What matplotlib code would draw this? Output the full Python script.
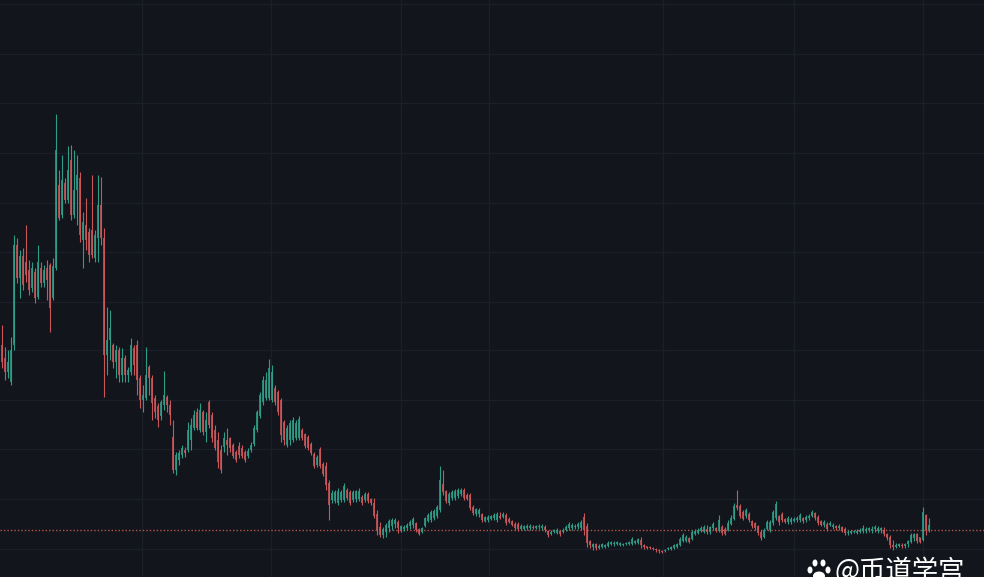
import numpy as np
import matplotlib
matplotlib.use("Agg")
import matplotlib.pyplot as plt
from matplotlib.patches import Ellipse
from matplotlib.transforms import IdentityTransform

TOP = 577
opens_read = [
 345,358,372,382,345,245,278,256,262,270,
 288,272,297,268,283,268,265,298,268,185,
 215,183,200,160,215,190,178,240,225,232,
 230,258,238,205,238,355,340,345,362,350,
 375,358,375,372,348,345,378,400,398,367,
 378,398,406,416,405,397,405,437,470,460,
 455,450,450,440,428,412,430,412,432,402,
 415,430,440,450,447,440,438,445,452,446,
 448,452,456,450,444,430,416,402,398,398,
 400,388,392,400,422,445,440,440,438,438,
 430,434,437,444,454,465,449,464,466,483,
 500,501,503,500,500,490,492,500,499,499,
 497,500,494,499,503,514,527,535,532,528,
 526,524,522,530,529,528,526,525,523,529,
 532,526,521,520,518,516,510,484,491,503,
 498,498,496,494,490,495,495,507,514,514,
 514,521,520,519,518,520,516,517,515,519,
 521,524,524,529,529,528,528,527,528,527,
 528,527,531,534,532,533,531,532,530,528,
 528,527,527,528,517,526,541,547,544,548,
 547,547,546,544,544,544,545,545,544,544,
 544,543,543,540,545,546,547,548,549,550,
 551,551,549,549,548,547,545,541,541,538,
 539,534,533,531,532,529,532,528,528,531,
 527,529,530,524,519,505,506,512,516,514,
 521,523,526,532,537,529,530,523,518,516,
 514,519,522,522,521,520,520,518,520,518,
 516,513,517,521,525,524,525,527,526,528,
 527,529,533,533,532,533,532,531,531,530,
 531,529,531,530,530,534,537,545,547,546,
 545,546,544,542,538,534,537,540,515,530,
]
closes_read = [
 362,372,362,350,245,278,256,285,275,290,
 268,298,262,283,270,280,308,266,150,218,
 180,200,170,215,190,175,235,222,240,255,
 255,235,205,238,355,340,328,362,350,375,
 358,375,370,345,365,380,400,395,375,378,
 403,412,420,402,395,405,415,470,455,453,
 448,453,430,425,415,428,410,432,420,425,
 438,448,462,470,438,445,448,456,460,455,
 456,460,451,445,428,412,395,380,380,368,
 372,402,412,435,440,428,423,420,423,419,
 438,446,448,453,466,457,466,474,485,505,
 493,492,491,492,486,498,503,492,491,491,
 503,494,501,503,516,530,535,529,525,521,
 520,520,528,526,527,525,522,519,530,534,
 528,518,515,512,511,507,480,492,501,494,
 492,491,490,490,498,499,508,513,509,510,
 520,517,517,516,515,514,518,514,523,522,
 525,528,529,526,526,526,526,528,526,526,
 526,530,535,532,531,530,534,530,527,524,
 525,526,524,522,530,543,545,544,548,546,
 544,545,543,542,543,542,543,544,543,542,
 539,541,539,545,547,548,548,549,550,551,
 552,550,548,547,545,544,539,535,537,542,
 532,531,530,528,527,532,527,524,531,520,
 533,534,523,518,506,508,516,519,510,520,
 526,528,533,538,530,522,522,512,504,522,
 520,522,518,519,519,518,515,521,517,516,
 512,518,523,525,522,529,523,525,528,526,
 530,533,532,531,531,531,530,528,529,528,
 529,527,528,528,534,538,545,547,545,544,
 546,544,541,535,534,541,542,512,530,525,
]
highs_read = [
 325,347,350,337,235,238,250,248,225,260,
 262,268,245,262,265,260,263,258,114,170,
 155,178,146,145,150,155,172,212,198,228,
 175,230,175,177,228,307,310,343,345,347,
 348,355,367,338,345,340,375,385,347,365,
 375,395,403,400,371,395,400,420,452,450,
 445,447,422,418,410,408,403,410,412,400,
 412,425,432,445,432,428,437,443,450,442,
 445,450,448,442,425,410,392,376,372,359,
 365,385,390,398,420,425,420,417,420,416,
 428,433,435,442,452,455,447,462,462,480,
 490,490,488,490,483,488,490,490,490,488,
 495,492,492,498,498,510,522,527,523,519,
 518,518,520,525,525,523,520,517,522,528,
 527,517,513,510,509,505,466,470,490,492,
 490,489,488,488,488,493,493,505,508,508,
 513,516,515,515,513,512,512,512,513,517,
 520,522,522,524,525,524,524,525,525,524,
 524,525,530,530,529,528,530,528,525,522,
 523,524,522,520,513,523,540,543,543,544,
 543,544,541,541,541,541,542,543,542,541,
 537,540,538,537,544,546,546,547,548,549,
 550,549,547,546,544,543,537,533,535,537,
 530,529,528,526,525,525,526,522,527,515,
 525,527,520,515,503,490,504,510,508,512,
 520,522,525,530,528,520,520,510,501,515,
 512,518,516,517,517,516,513,517,515,514,
 510,512,515,520,520,522,521,523,525,524,
 526,527,530,530,530,529,528,525,527,527,
 526,525,526,527,527,533,535,540,543,543,
 543,543,540,533,533,533,537,507,514,518,
]
lows_read = [
 368,380,378,385,350,283,298,290,282,295,
 292,303,299,287,287,300,332,300,270,220,
 218,203,203,220,218,225,242,268,250,262,
 258,262,262,245,397,375,360,368,378,382,
 382,382,382,375,375,395,408,412,400,395,
 420,418,427,420,410,412,425,473,475,465,
 458,457,452,450,430,430,432,435,442,428,
 442,450,468,473,452,455,452,458,462,458,
 458,462,458,452,446,432,418,405,400,400,
 402,405,415,442,445,447,445,442,440,440,
 440,448,450,455,468,467,468,476,490,520,
 503,503,505,502,502,500,505,502,502,501,
 505,502,503,505,518,535,537,538,537,532,
 530,528,533,532,531,530,529,528,532,535,
 533,527,522,522,520,518,512,495,503,505,
 500,500,498,496,500,500,510,515,516,517,
 522,522,522,520,520,522,519,518,525,523,
 526,530,531,530,530,530,530,529,529,529,
 530,532,537,535,533,534,536,533,531,530,
 530,529,529,530,535,547,548,550,550,549,
 548,548,547,545,546,545,546,546,545,545,
 545,544,544,548,549,549,549,550,552,553,
 553,552,550,550,549,548,546,542,542,543,
 540,535,534,532,533,534,534,530,532,532,
 535,535,531,525,520,510,518,520,518,522,
 528,530,535,540,538,530,532,525,520,525,
 522,523,524,524,522,522,522,523,522,520,
 517,520,525,526,527,531,526,529,530,530,
 532,535,535,534,533,534,533,533,533,532,
 533,532,533,533,536,540,548,550,548,547,
 548,548,547,543,541,543,543,541,535,532,
]
price_gridlines_read = [4, 54, 103, 153, 203, 252, 302, 350, 400, 449, 499, 549]
time_gridlines = [46.8, 89.8, 133, 162.5, 220.5, 264, 307]
last_price_read = 530
watermark = "@币道学宫"

opens = TOP - np.array(opens_read, dtype=float)
closes = TOP - np.array(closes_read, dtype=float)
highs = TOP - np.array(highs_read, dtype=float)
lows = TOP - np.array(lows_read, dtype=float)
bars = np.arange(len(closes))

BG = "#12151c"
GRID = "#1b1f27"
UP = "#2f9c87"
DOWN = "#c9575a"

fig = plt.figure(figsize=(9.84, 5.77), dpi=100, facecolor=BG)
ax = fig.add_axes([0, 0, 1, 1], facecolor=BG)
ax.set_xlim(-0.5, 327.5)
ax.set_ylim(0, TOP)
for s in ax.spines.values():
    s.set_visible(False)
ax.set_xticks(time_gridlines)
ax.set_yticks(TOP - np.array(price_gridlines_read, dtype=float))
ax.tick_params(length=0, labelbottom=False, labelleft=False)
ax.grid(True, color=GRID, lw=1)
ax.set_axisbelow(True)

colors = np.where(closes >= opens, UP, DOWN)
ax.vlines(bars, lows, highs, colors=colors, lw=0.8, zorder=3)
ax.bar(bars, np.abs(closes - opens), bottom=np.minimum(opens, closes),
       width=0.55, color=colors, lw=0, alpha=0.85, zorder=3)
ax.axhline(TOP - last_price_read, color="#b5554f", lw=1.0, ls=(0, (1, 1.5)), zorder=2)

ax.text(834 / 984, (577 - 557) / 577, watermark, transform=ax.transAxes, color="white",
        fontsize=19, family=["Noto Sans CJK SC", "DejaVu Sans"], va="top", ha="left", zorder=5)
for cx, cy, w, h in [(810, 570, 5, 7), (815, 563, 5, 7), (823, 563, 5, 7), (828, 570, 5, 7), (819, 576, 12, 9)]:
    fig.add_artist(Ellipse((cx, 577 - cy), w, h, transform=IdentityTransform(), color="white", lw=0))

fig.savefig("out.png", dpi=100, facecolor=BG)
